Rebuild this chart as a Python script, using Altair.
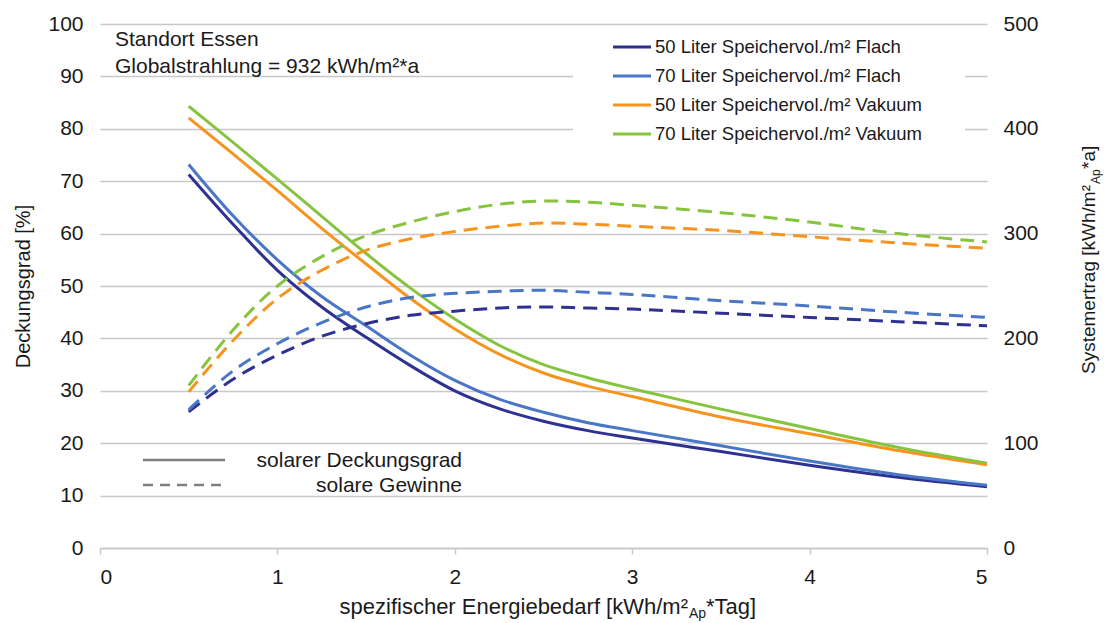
import altair as alt
import pandas as pd

# ---------------- data ----------------
x_vals = [0.5, 0.75, 1.0, 1.25, 1.5, 1.75, 2.0, 2.25, 2.5, 2.75, 3.0, 3.5, 4.0, 4.5, 5.0]

series = [
    "50 Liter Speichervol./m² Flach",
    "70 Liter Speichervol./m² Flach",
    "50 Liter Speichervol./m² Vakuum",
    "70 Liter Speichervol./m² Vakuum",
]
colors = ["#2E3191", "#4A76C8", "#F7941E", "#86C440"]

# solarer Deckungsgrad [%] (left axis)
deck_50_flach = [71.3, 61.8, 53.0, 46.0, 40.2, 34.8, 30.0, 26.6, 24.2, 22.4, 21.0, 18.4, 15.8, 13.5, 11.7]
deck_70_flach = [73.2, 63.4, 55.0, 48.0, 42.4, 36.8, 32.0, 28.4, 25.9, 23.9, 22.4, 19.5, 16.6, 14.0, 12.0]
deck_50_vak   = [82.1, 75.2, 68.2, 61.0, 54.2, 47.6, 41.8, 37.0, 33.4, 30.9, 28.9, 25.0, 21.8, 18.6, 15.9]
deck_70_vak   = [84.3, 77.4, 70.4, 63.3, 56.2, 49.6, 43.7, 38.7, 35.0, 32.5, 30.4, 26.5, 22.8, 19.2, 16.2]

# solare Gewinne / Systemertrag [kWh/m²Ap*a] (right axis)
ertrag_50_flach = [130, 161, 184, 202, 214, 222, 226, 229, 230, 229, 228, 224, 220, 216, 212]
ertrag_70_flach = [132, 169, 195, 215, 230, 239, 243, 245, 246, 244, 242, 236, 231, 225, 220]
ertrag_50_vak   = [149, 198, 238, 265, 284, 295, 302, 307, 310, 309, 307, 303, 297, 291, 286]
ertrag_70_vak   = [155, 208, 250, 278, 298, 311, 321, 328, 331, 330, 327, 320, 311, 300, 292]

x_ticks = [0, 1, 2, 3, 4, 5]
left_ticks = list(range(0, 101, 10))
right_ticks = list(range(0, 501, 100))

# ---------------- tables ----------------
deck_all = [deck_50_flach, deck_70_flach, deck_50_vak, deck_70_vak]
ertrag_all = [ertrag_50_flach, ertrag_70_flach, ertrag_50_vak, ertrag_70_vak]

rows = []
for s, d, e in zip(series, deck_all, ertrag_all):
    for xv, dv, ev in zip(x_vals, d, e):
        rows.append({"x": xv, "Serie": s, "Deckungsgrad": dv, "Ertrag": ev})
df = pd.DataFrame(rows)

FONT = "Liberation Sans"
TXT = "#1a1a1a"
GRID = "#c8c8c8"

color_scale = alt.Scale(domain=series, range=colors)
x_enc = alt.X(
    "x:Q",
    scale=alt.Scale(domain=[0, 5], nice=False),
    axis=alt.Axis(
        values=x_ticks, title=None, grid=False, domain=True, domainColor=GRID,
        domainWidth=1.5, ticks=True, tickColor=GRID, tickSize=6, tickWidth=1.5,
        labelFontSize=21, labelFont=FONT, labelColor=TXT, labelPadding=12,
    ),
)

solid = alt.Chart(df).mark_line(strokeWidth=3, interpolate="catmull-rom").encode(
    x=x_enc,
    y=alt.Y(
        "Deckungsgrad:Q",
        scale=alt.Scale(domain=[0, 100], nice=False),
        axis=alt.Axis(
            orient="left", values=left_ticks, title="Deckungsgrad [%]",
            grid=True, gridColor=GRID, gridWidth=1.5, domain=False, ticks=False,
            tickSize=0, labelFontSize=21, labelFont=FONT, labelColor=TXT,
            labelPadding=17, titleFontSize=20, titleFont=FONT, titleColor=TXT,
            titleFontWeight="normal", titlePadding=14,
        ),
    ),
    color=alt.Color("Serie:N", scale=color_scale, legend=None),
    detail="Serie:N",
)

dashed = alt.Chart(df).mark_line(strokeWidth=3, interpolate="catmull-rom", strokeDash=[14, 8]).encode(
    x=x_enc,
    y=alt.Y(
        "Ertrag:Q",
        scale=alt.Scale(domain=[0, 500], nice=False),
        axis=alt.Axis(
            orient="right", values=right_ticks, title=None, grid=False,
            domain=False, ticks=False, tickSize=0, labelFontSize=21,
            labelFont=FONT, labelColor=TXT, labelPadding=16, labelAlign="left",
        ),
    ),
    color=alt.Color("Serie:N", scale=color_scale, legend=None),
    detail="Serie:N",
)

one = alt.Data(values=[{"k": 1}])

def txt(text, x, y, size, align="left", angle=None, dx=0, dy=0, color=TXT):
    kw = dict(align=align, baseline="alphabetic", fontSize=size, font=FONT, color=color, dx=dx, dy=dy)
    if angle is not None:
        kw["angle"] = angle
    return alt.Chart(one).mark_text(**kw).encode(
        x=alt.value(x), y=alt.value(y), text=alt.value(text)
    )

def rule(x1, x2, y, color, dash=None, width=3):
    kw = dict(strokeWidth=width, color=color)
    if dash:
        kw["strokeDash"] = dash
    return alt.Chart(one).mark_rule(**kw).encode(
        x=alt.value(x1), x2=alt.value(x2), y=alt.value(y)
    )

layers = []
# white box behind colour legend
layers.append(
    alt.Chart(one).mark_rect(color="white").encode(
        x=alt.value(473), x2=alt.value(865), y=alt.value(11), y2=alt.value(126)
    )
)
layers += [solid, dashed]

# colour legend
leg_y = [23, 52, 81, 110]
for s, c, yy in zip(series, colors, leg_y):
    layers.append(rule(513, 551, yy, c))
    layers.append(txt(s, 555, yy + 6, 18.5))

# station text
layers.append(txt("Standort Essen", 15, 22, 21))
layers.append(txt("Globalstrahlung = 932 kWh/m²*a", 15, 49, 21))

# line-style legend
layers.append(rule(43, 125, 436, "#7f7f7f", width=2.5))
layers.append(rule(43, 125, 461, "#7f7f7f", dash=[10, 7], width=2.5))
layers.append(txt("solarer Deckungsgrad", 362, 443, 21, align="right"))
layers.append(txt("solare Gewinne", 362, 468, 21, align="right"))

# x axis title with subscript
layers.append(txt("spezifischer Energiebedarf [kWh/m²", 588, 590, 22, align="right"))
layers.append(txt("Ap", 588, 590, 14, align="left", dx=1, dy=4))
layers.append(txt("*Tag]", 588, 590, 22, align="left", dx=18))

# right axis title with subscript (rotated)
layers.append(txt("Systemertrag [kWh/m²", 995, 161, 19, align="right", angle=270))
layers.append(txt("Ap", 995, 161, 12, align="left", angle=270, dx=1, dy=5))
layers.append(txt("*a]", 995, 161, 19, align="left", angle=270, dx=16))

chart = alt.layer(*layers).resolve_scale(y="independent").properties(
    width=887,
    height=524,
    autosize=alt.AutoSizeParams(type="none"),
    padding={"left": 100, "top": 24, "right": 119, "bottom": 75},
    background="white",
).configure_view(stroke=None)

chart.save("out.html", embed_options={"renderer": "svg", "actions": False})
